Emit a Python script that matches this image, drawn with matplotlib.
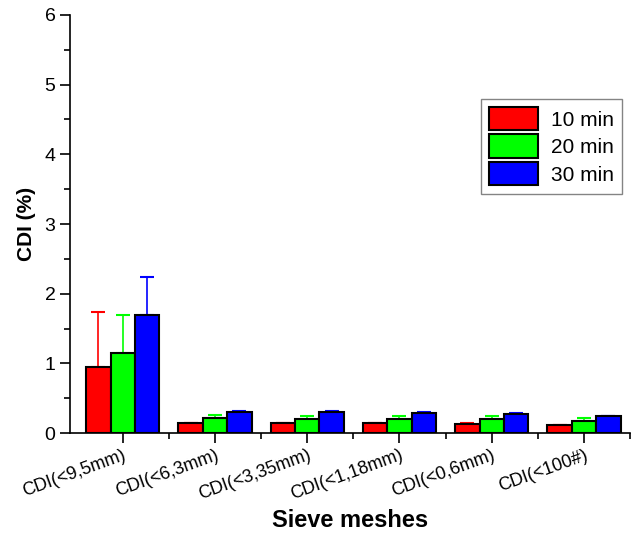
import matplotlib.pyplot as plt
from matplotlib.ticker import MultipleLocator
import numpy as np

plt.rcParams['font.family'] = ['Liberation Sans', 'DejaVu Sans']

# dados
categorias = ['CDI(<9,5mm)', 'CDI(<6,3mm)', 'CDI(<3,35mm)',
              'CDI(<1,18mm)', 'CDI(<0,6mm)', 'CDI(<100#)']
series = ['10 min', '20 min', '30 min']
cdi_10 = [0.95, 0.14, 0.14, 0.14, 0.13, 0.11]
cdi_20 = [1.15, 0.21, 0.20, 0.20, 0.20, 0.17]
cdi_30 = [1.70, 0.30, 0.30, 0.29, 0.28, 0.24]
err_10 = [0.79, 0.01, 0.01, 0.01, 0.01, 0.01]
err_20 = [0.54, 0.05, 0.05, 0.05, 0.05, 0.04]
err_30 = [0.54, 0.02, 0.01, 0.01, 0.01, 0.01]
cores = ['#ff0000', '#00ff00', '#0000ff']

valores = [cdi_10, cdi_20, cdi_30]
erros = [err_10, err_20, err_30]

fig = plt.figure(figsize=(6.32, 5.34), dpi=100)
ax = fig.add_axes([0.111, 0.189, 0.886, 0.783])

x = np.arange(len(categorias))
largura = 0.265
for i in range(3):
    pos = x + (i - 1) * largura
    ax.bar(pos, valores[i], largura, color=cores[i], edgecolor='black',
           linewidth=1.5, label=series[i], zorder=2)
    ax.errorbar(pos, valores[i], yerr=[np.zeros(len(x)), erros[i]],
                fmt='none', ecolor=cores[i], elinewidth=1.2, capsize=5,
                capthick=1.5, zorder=1)

ax.set_xlim(-0.57, 5.5)
ax.set_ylim(0, 6)
ax.set_xticks(x)
ax.set_xticklabels(categorias, rotation=20, ha='right', fontsize=13,
                   rotation_mode='anchor')
ax.set_xticks(x + 0.5, minor=True)
ax.yaxis.set_major_locator(MultipleLocator(1))
ax.yaxis.set_minor_locator(MultipleLocator(0.5))
ax.tick_params(axis='both', which='major', length=7, width=1.2,
               direction='out', labelsize=14)
ax.tick_params(axis='both', which='minor', length=4, width=1.2,
               direction='out')
ax.tick_params(axis='x', which='major', pad=3, labelsize=13)

for lado in ['top', 'right']:
    ax.spines[lado].set_visible(False)
for lado in ['left', 'bottom']:
    ax.spines[lado].set_linewidth(1.2)

ax.set_ylabel('CDI (%)', fontsize=15, fontweight='bold', labelpad=6)
ax.set_xlabel('Sieve meshes', fontsize=17, fontweight='bold')
ax.xaxis.set_label_coords(0.5, -0.182)

leg = ax.legend(loc='upper right', bbox_to_anchor=(1.004, 0.825), fontsize=15,
                fancybox=False, edgecolor='#666666', handlelength=2.35,
                handleheight=1.35, handletextpad=0.6, labelspacing=0.2,
                borderpad=0.4)
leg.get_frame().set_linewidth(1.0)

plt.savefig('out.png', dpi=100)
